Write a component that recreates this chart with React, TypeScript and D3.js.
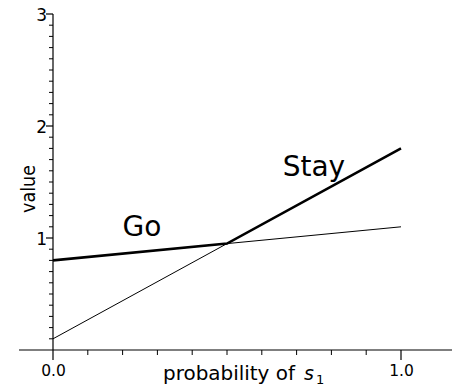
import React from "react";
import * as d3 from "d3";

const W = 452;
const H = 386;

// data
const pValues = [0, 1];
const goValues = [0.8, 1.1];
const stayValues = [0.1, 1.8];
const xMajorTicks = [0, 1];
const xMinorTicks = [0.1, 0.2, 0.3, 0.4, 0.5, 0.6, 0.7, 0.8, 0.9];
const yMajorTicks = [1, 2, 3];
const yMinorTicks = d3.range(1, 30).map((i) => i / 10).filter((v) => Math.abs(v - Math.round(v)) > 1e-6);
const xTickLabels = ["0.0", "1.0"];
const yTickLabels = ["1", "2", "3"];
const seriesLabels = ["Go", "Stay"];
const labelPos = [
  [0.2, 1.02],
  [0.66, 1.55],
];

export default function App() {
  const x = d3.scaleLinear().domain([0, 1]).range([53, 401]);
  const y = d3.scaleLinear().domain([0, 3]).range([350, 14]);

  const goFn = (p: number) => goValues[0] + (goValues[1] - goValues[0]) * p;
  const stayFn = (p: number) => stayValues[0] + (stayValues[1] - stayValues[0]) * p;
  const pc = (goValues[0] - stayValues[0]) / (stayValues[1] - stayValues[0] - (goValues[1] - goValues[0]));

  const line = d3
    .line<[number, number]>()
    .x((d) => x(d[0]))
    .y((d) => y(d[1]));

  const goPts: [number, number][] = pValues.map((p, i) => [p, goValues[i]]);
  const stayPts: [number, number][] = pValues.map((p, i) => [p, stayValues[i]]);
  const envelope: [number, number][] = [
    [0, goFn(0)],
    [pc, goFn(pc)],
    [1, stayFn(1)],
  ];

  const font = "DejaVu Sans, sans-serif";

  return (
    <svg
      width={W}
      height={H}
      style={{ position: "absolute", left: 0, top: 0, background: "#fff" }}
      fontFamily={font}
    >
      {/* x axis */}
      <line x1={19} x2={W} y1={y(0)} y2={y(0)} stroke="#000" strokeWidth={1.2} />
      {xMinorTicks.map((t) => (
        <line key={"xm" + t} x1={x(t)} x2={x(t)} y1={y(0)} y2={y(0) + 5} stroke="#000" strokeWidth={1} />
      ))}
      {xMajorTicks.map((t, i) => (
        <g key={"xM" + t}>
          <line x1={x(t)} x2={x(t)} y1={y(0)} y2={y(0) + 10} stroke="#000" strokeWidth={1.2} />
          <text x={x(t) + 0.5} y={y(0) + 26} textAnchor="middle" fontSize={15.5}>
            {xTickLabels[i]}
          </text>
        </g>
      ))}

      {/* y axis */}
      <line x1={x(0)} x2={x(0)} y1={y(0)} y2={y(3)} stroke="#000" strokeWidth={1.2} />
      {yMinorTicks.map((t) => (
        <line key={"ym" + t} x1={x(0) - 4} x2={x(0)} y1={y(t)} y2={y(t)} stroke="#000" strokeWidth={1} />
      ))}
      {yMajorTicks.map((t, i) => (
        <g key={"yM" + t}>
          <line x1={x(0) - 7} x2={x(0)} y1={y(t)} y2={y(t)} stroke="#000" strokeWidth={1.2} />
          <text x={x(0) - 6} y={y(t) + 7} textAnchor="end" fontSize={17}>
            {yTickLabels[i]}
          </text>
        </g>
      ))}

      {/* thin lines */}
      <path d={line(goPts) || ""} fill="none" stroke="#000" strokeWidth={1} />
      <path d={line(stayPts) || ""} fill="none" stroke="#000" strokeWidth={1} />
      {/* thick upper envelope */}
      <path d={line(envelope) || ""} fill="none" stroke="#000" strokeWidth={2.6} />

      {/* series labels */}
      {seriesLabels.map((s, i) => (
        <text key={s} x={x(labelPos[i][0])} y={y(labelPos[i][1])} fontSize={28}>
          {s}
        </text>
      ))}

      {/* axis titles */}
      <text x={163} y={380} fontSize={19} textLength={132} lengthAdjust="spacingAndGlyphs">
        probability of
      </text>
      <text x={304} y={380} fontSize={19} fontStyle="italic">
        s
      </text>
      <text x={316} y={384} fontSize={13}>
        1
      </text>
      <text
        transform={`translate(35,189) rotate(-90)`}
        textAnchor="middle"
        fontSize={19}
        textLength={48}
        lengthAdjust="spacingAndGlyphs"
      >
        value
      </text>
    </svg>
  );
}
